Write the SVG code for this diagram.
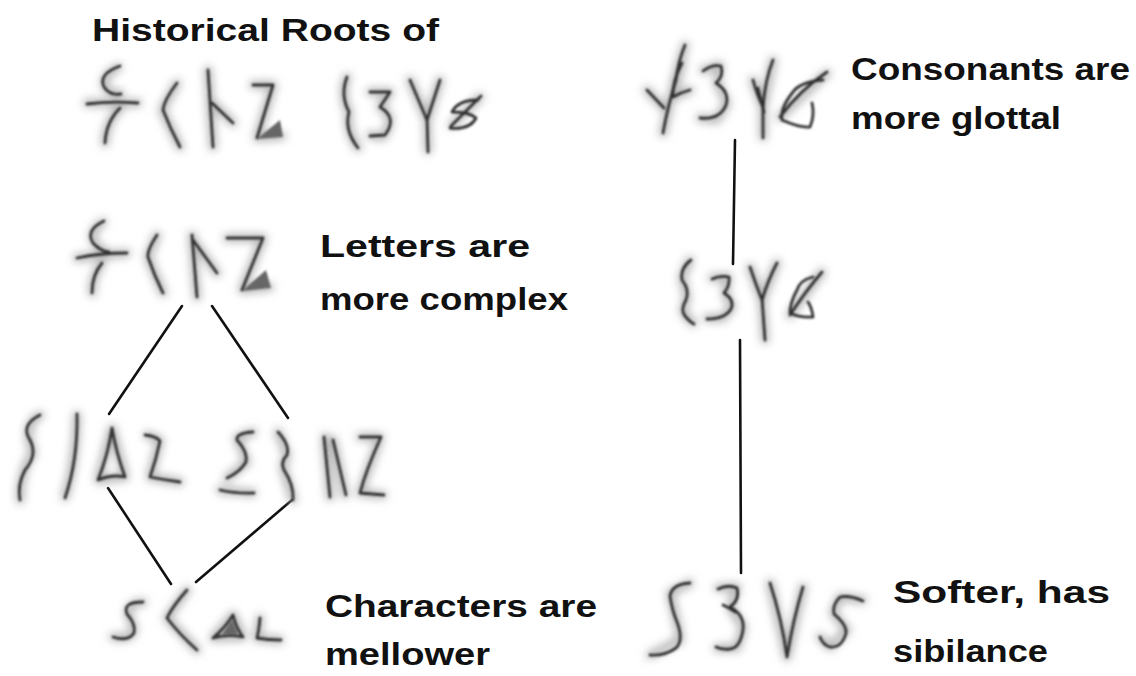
<svg xmlns="http://www.w3.org/2000/svg" width="1136" height="676" viewBox="0 0 1136 676">
<defs>
<filter id="soft" x="-20%" y="-20%" width="140%" height="140%"><feGaussianBlur stdDeviation="1.2"/></filter>
<filter id="halo" x="-30%" y="-30%" width="160%" height="160%"><feGaussianBlur stdDeviation="4.5"/></filter>
</defs>
<style>
.lbl{font-family:"Comic Sans MS","Liberation Sans",sans-serif;font-weight:bold;font-size:32px;fill:#111}
.g path{fill:none;stroke:#303030;stroke-width:2.8;stroke-linecap:round;stroke-linejoin:round}
.g .h path{stroke:#b4b4b4;stroke-width:8}
.g .f{fill:#666;stroke:none}
.con line{stroke:#111;stroke-width:2.6;stroke-linecap:round}
</style>
<rect width="1136" height="676" fill="#fff"/>

<g id="connectors" class="con">
<line x1="182" y1="306" x2="109" y2="414"/>
<line x1="212" y1="306" x2="288" y2="418"/>
<line x1="108" y1="488" x2="171" y2="584"/>
<line x1="292" y1="500" x2="196" y2="582"/>
<line x1="735" y1="140" x2="733" y2="264"/>
<line x1="740" y1="340" x2="741" y2="573"/>
</g>

<g id="title">
<text class="lbl" x="92" y="41" textLength="347" lengthAdjust="spacingAndGlyphs">Historical Roots of</text>
</g>

<g id="node-roots-a" class="g">
<g class="h" filter="url(#halo)"><path d="M118 67 Q100 78 106 88 Q112 95 120 93 M87 103 L138 103 M120 108 Q106 122 105 143 M177 83 L162 110 L180 147 M208 70 L213 147 M213 103 L233 123 M253 85 L273 85 L257 138 L282 136"/></g>
<g filter="url(#soft)">
<path d="M120 66 Q98 74 104 87 Q110 96 121 94"/>
<path d="M87 104 Q110 101 138 103"/>
<path d="M120 108 Q106 122 105 143"/>
<path d="M177 83 Q164 100 163 110 Q170 128 180 147"/>
<path d="M208 70 L213 147"/>
<path d="M212 103 L233 123"/>
<path d="M253 85 L273 85 L257 138"/>
<path class="f" d="M257 139 L283 137 L280 120 Z"/>
</g>
</g>
<g id="node-roots-b" class="g">
<g class="h" filter="url(#halo)"><path d="M347 77 Q340 95 349 112 Q346 130 358 148 M370 92 L390 92 L380 107 Q397 117 383 137 L370 135 M410 80 L427 120 L440 80 M427 120 L428 150 M480 97 L452 125"/></g>
<g filter="url(#soft)">
<path d="M347 77 Q340 95 349 112 Q344 130 358 148"/>
<path d="M370 92 L390 92 L380 107 Q398 118 385 135 L370 136"/>
<path d="M410 80 L427 120 L440 80"/>
<path d="M427 118 L428 152"/>
<path d="M481 96 L451 126"/>
<path d="M478 100 Q458 100 452 112 Q470 112 476 118 Q470 130 450 128"/>
</g>
</g>

<g id="node-letters" class="g">
<g class="h" filter="url(#halo)"><path d="M103 222 Q88 232 95 243 Q100 250 107 252 M77 258 L127 253 M102 263 Q92 275 92 293 M157 235 L148 257 L163 293 M192 235 L197 297 M193 240 L217 273 M227 238 L263 238 L242 290 L270 287"/></g>
<g filter="url(#soft)">
<path d="M104 221 Q85 230 93 243 Q100 251 109 252"/>
<path d="M77 258 Q100 253 127 253"/>
<path d="M102 263 Q92 275 92 293"/>
<path d="M157 235 Q147 250 148 257 Q154 275 163 293"/>
<path d="M192 235 L197 297"/>
<path d="M193 240 L217 273"/>
<path d="M227 238 L263 238 L242 290"/>
<path class="f" d="M242 291 L271 288 L266 270 Z"/>
</g>
</g>
<g id="label-letters">
<text class="lbl" x="320" y="257" textLength="210" lengthAdjust="spacingAndGlyphs">Letters are</text>
<text class="lbl" x="320" y="310" textLength="248" lengthAdjust="spacingAndGlyphs">more complex</text>
</g>

<g id="node-left-a" class="g">
<g class="h" filter="url(#halo)"><path d="M40 415 Q22 425 33 453 Q20 470 20 500 M77 415 Q76 460 65 497 M112 428 L98 480 L125 477 Z M147 435 L160 440 L150 477 L180 482"/></g>
<g filter="url(#soft)">
<path d="M40 415 Q20 425 30 440 Q38 455 25 470 Q17 485 20 500"/>
<path d="M77 414 Q78 460 65 498"/>
<path d="M112 428 Q108 455 98 480 Q112 474 125 477 Q116 452 112 428"/>
<path d="M145 435 Q156 436 160 441 Q156 460 150 477 Q165 480 180 482"/>
</g>
</g>
<g id="node-left-b" class="g">
<g class="h" filter="url(#halo)"><path d="M253 432 L237 438 L247 462 L227 478 M220 490 L253 493 M278 432 L287 455 L283 467 L293 500 M325 437 L330 497 M333 440 L345 495 M360 437 L380 437 L360 493 L383 495"/></g>
<g filter="url(#soft)">
<path d="M253 432 Q236 433 237 440 Q248 452 246 462 Q240 472 227 478"/>
<path d="M220 490 Q238 494 254 493"/>
<path d="M278 432 Q290 445 287 455 Q280 462 284 470 Q294 485 293 500"/>
<path d="M324 437 L330 497"/>
<path d="M333 440 L346 495"/>
<path d="M360 437 L381 437 Q366 470 360 493 L384 495"/>
</g>
</g>

<g id="node-mellow" class="g">
<g class="h" filter="url(#halo)"><path d="M143 602 Q120 605 133 625 Q137 640 113 637 M187 590 L167 618 L197 650 M233 615 L213 638 L243 637 Z M260 618 L257 638 L280 640"/></g>
<g filter="url(#soft)">
<path d="M143 602 Q122 602 127 614 Q136 624 134 633 Q128 642 113 637"/>
<path d="M187 590 Q172 607 167 618 Q180 635 197 650"/>
<path d="M233 615 Q225 628 213 638 Q228 634 243 637 Q236 628 233 615"/>
<path class="f" d="M232 620 L222 634 L238 634 Z"/>
<path d="M260 618 Q259 630 257 638 Q268 640 281 640"/>
</g>
</g>
<g id="label-mellow">
<text class="lbl" x="325" y="617" textLength="272" lengthAdjust="spacingAndGlyphs">Characters are</text>
<text class="lbl" x="325" y="665" textLength="165" lengthAdjust="spacingAndGlyphs">mellower</text>
</g>

<g id="node-glottal" class="g">
<g class="h" filter="url(#halo)"><path d="M685 45 L675 80 L663 133 M647 90 L663 107 M682 63 L673 97 L690 90 M703 70 L720 65 L717 83 L727 103 L717 120 L700 118 M753 80 L763 107 L773 60 M763 107 L763 137 M827 73 L780 117"/></g>
<g filter="url(#soft)">
<path d="M685 45 Q678 62 676 80 Q668 105 663 133"/>
<path d="M647 90 L664 108"/>
<path d="M682 63 Q672 82 673 97 Q682 92 690 90"/>
<path d="M703 71 Q712 64 721 66 Q724 76 716 83 Q730 92 726 105 Q720 120 700 118"/>
<path d="M753 80 Q757 95 763 107 Q765 80 773 60"/>
<path d="M763 104 L763 138"/>
<path d="M758 88 L764 112"/>
<path d="M827 72 Q800 90 780 117"/>
<path d="M823 80 Q800 82 793 92 Q780 108 782 120 Q800 128 810 127 Q815 115 812 103"/>
</g>
</g>
<g id="label-glottal">
<text class="lbl" x="851" y="80" textLength="279" lengthAdjust="spacingAndGlyphs">Consonants are</text>
<text class="lbl" x="851" y="129" textLength="210" lengthAdjust="spacingAndGlyphs">more glottal</text>
</g>

<g id="node-mid" class="g">
<g class="h" filter="url(#halo)"><path d="M690 260 L682 277 L687 297 L683 312 L693 323 M712 278 L728 277 L725 293 L732 307 L723 318 L707 318 M750 267 L762 300 L777 263 M762 300 L765 340 M822 272 L790 315"/></g>
<g filter="url(#soft)">
<path d="M691 260 Q680 268 682 280 Q690 290 686 300 Q680 310 685 316 Q690 322 694 324"/>
<path d="M712 279 Q720 275 729 277 Q730 286 724 293 Q735 300 731 309 Q725 319 707 319"/>
<path d="M750 267 Q756 285 762 300 Q768 280 777 263"/>
<path d="M762 298 L765 340"/>
<path d="M822 272 Q805 292 790 315"/>
<path d="M813 277 Q800 280 797 290 Q790 303 790 313 Q800 318 813 317 Q812 308 808 302"/>
</g>
</g>

<g id="node-soft" class="g">
<g class="h" filter="url(#halo)"><path d="M690 583 L670 593 L677 623 L680 640 L650 655 M718 588 L737 587 L730 607 L743 627 L737 648 L717 648 M770 583 L787 657 L803 587 M863 600 L840 597 L833 613 L847 630 L830 647 L820 637"/></g>
<g filter="url(#soft)">
<path d="M690 583 Q672 584 670 596 Q672 610 677 622 Q684 640 676 648 Q665 656 650 655"/>
<path d="M718 589 Q728 584 737 588 Q740 600 730 607 Q745 615 743 630 Q740 648 730 649 Q722 650 716 647"/>
<path d="M723 605 Q730 608 735 612"/>
<path d="M770 583 Q782 620 787 657 Q793 620 803 587"/>
<path d="M863 601 Q850 595 840 597 Q832 605 834 614 Q847 625 846 633 Q842 648 830 647 Q823 645 820 637"/>
</g>
</g>
<g id="label-soft">
<text class="lbl" x="893" y="603" textLength="217" lengthAdjust="spacingAndGlyphs">Softer, has</text>
<text class="lbl" x="893" y="662" textLength="155" lengthAdjust="spacingAndGlyphs">sibilance</text>
</g>
</svg>
